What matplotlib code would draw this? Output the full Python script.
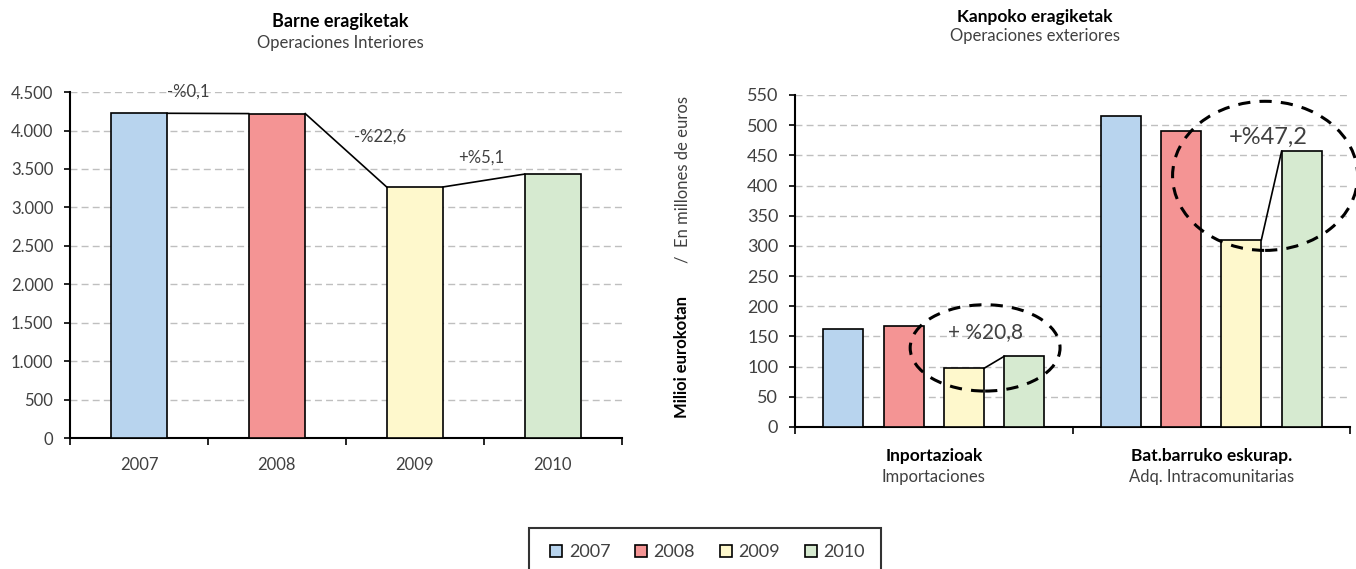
import matplotlib.pyplot as plt
from matplotlib.patches import Ellipse
from matplotlib.lines import Line2D
import numpy as np

plt.rcParams['font.family'] = ['Lato', 'DejaVu Sans']

years = ['2007', '2008', '2009', '2010']
colors = ['#B8D4EE', '#F49494', '#FEF8CC', '#D6EAD0']

# Operaciones interiores (millones de euros)
interior = [4224, 4220, 3266, 3433]
interior_changes = ['-%0,1', '-%22,6', '+%5,1']

# Operaciones exteriores
groups_eu = ['Inportazioak', 'Bat.barruko eskurap.']
groups_es = ['Importaciones', 'Adq. Intracomunitarias']
imports = [163, 167, 97, 117]
intra = [515, 491, 310, 457]
ext_changes = ['+ %20,8', '+%47,2']

txt = '#404040'
grid_c = '#BFBFBF'

fig = plt.figure(figsize=(13.56, 5.69), dpi=100)

# ---------- left chart ----------
ax1 = fig.add_axes([0.0516, 0.2302, 0.407, 0.608])
x = np.arange(len(years))
w = 0.41
ax1.bar(x, interior, width=w, color=colors, edgecolor='black', linewidth=1.2, zorder=3)
for i in range(len(years) - 1):
    ax1.plot([x[i] + w / 2, x[i + 1] - w / 2], [interior[i], interior[i + 1]],
             color='black', lw=1.2, zorder=4)
ax1.set_xlim(-0.5, 3.5)
ax1.set_ylim(0, 4500)
ax1.set_yticks(np.arange(0, 4501, 500))
ax1.set_yticklabels([f'{v:,}'.replace(',', '.') for v in range(0, 4501, 500)])
ax1.set_xticks(x)
ax1.set_xticklabels(years)
ax1.set_xticks(np.arange(-0.5, 3.6, 1), minor=True)
ax1.tick_params(axis='x', which='major', length=0, pad=14, labelsize=12, labelcolor=txt)
ax1.tick_params(axis='x', which='minor', length=5, width=1.2, direction='out')
ax1.tick_params(axis='y', length=4, width=1.2, pad=8, labelsize=12, labelcolor=txt)
ax1.grid(axis='y', color=grid_c, linestyle=(0, (5, 3)), lw=1, zorder=0)
for s in ['top', 'right']:
    ax1.spines[s].set_visible(False)
for s in ['left', 'bottom']:
    ax1.spines[s].set_linewidth(1.5)
ax1.text(0.355, 4500, interior_changes[0], ha='center', va='center', fontsize=12, color=txt, zorder=5)
ax1.text(1.746, 3915, interior_changes[1], ha='center', va='center', fontsize=12, color=txt, zorder=5)
ax1.text(2.478, 3642, interior_changes[2], ha='center', va='center', fontsize=12, color=txt, zorder=5)

fig.text(0.251, 0.963, 'Barne eragiketak', ha='center', va='center', fontsize=13, fontweight='bold', color='black')
fig.text(0.251, 0.924, 'Operaciones Interiores', ha='center', va='center', fontsize=12, color=txt)

# ---------- right chart ----------
ax2 = fig.add_axes([0.5863, 0.2496, 0.4093, 0.5835])
gx = np.arange(len(groups_eu))
bw = 0.144
step = 0.217
offs = (np.arange(4) - 1.5) * step
for j in range(4):
    ax2.bar(gx + offs[j], [imports[j], intra[j]], width=bw, color=colors[j],
            edgecolor='black', linewidth=1.2, zorder=3)
for g, vals in enumerate([imports, intra]):
    ax2.plot([g + offs[2] + bw / 2, g + offs[3] - bw / 2], [vals[2], vals[3]],
             color='black', lw=1.2, zorder=4)
ax2.set_xlim(-0.5, 1.5)
ax2.set_ylim(0, 550)
ax2.set_yticks(np.arange(0, 551, 50))
ax2.set_xticks(gx)
ax2.set_xticklabels([])
ax2.set_xticks([-0.5, 0.5, 1.5], minor=True)
ax2.tick_params(axis='x', which='major', length=0)
ax2.tick_params(axis='x', which='minor', length=5, width=1.2, direction='out')
ax2.tick_params(axis='y', length=4, width=1.2, pad=8, labelsize=13, labelcolor=txt)
ax2.grid(axis='y', color=grid_c, linestyle=(0, (5, 3)), lw=1, zorder=0)
for s in ['top', 'right']:
    ax2.spines[s].set_visible(False)
for s in ['left', 'bottom']:
    ax2.spines[s].set_linewidth(1.5)

ax2.add_patch(Ellipse((0.185, 131), 0.54, 143, fill=False, ls=(0, (4, 3)), lw=2.2,
                      edgecolor='black', zorder=5, clip_on=False))
ax2.add_patch(Ellipse((1.194, 416), 0.667, 247, fill=False, ls=(0, (4, 3)), lw=2.2,
                      edgecolor='black', zorder=5, clip_on=False))
ax2.text(0.185, 157, ext_changes[0], ha='center', va='center', fontsize=15, color=txt, zorder=6)
ax2.text(1.205, 480, ext_changes[1], ha='center', va='center', fontsize=17, color=txt, zorder=6)

for g in range(len(groups_eu)):
    ax2.annotate(groups_eu[g], xy=(g, 0), xycoords=('data', 'axes fraction'),
                 xytext=(0, -21), textcoords='offset points', ha='center', va='center',
                 fontsize=12.5, fontweight='bold', color='black', annotation_clip=False)
    ax2.annotate(groups_es[g], xy=(g, 0), xycoords=('data', 'axes fraction'),
                 xytext=(0, -36), textcoords='offset points', ha='center', va='center',
                 fontsize=12, color=txt, annotation_clip=False)

fig.text(0.763, 0.970, 'Kanpoko eragiketak', ha='center', va='center', fontsize=12.5, fontweight='bold', color='black')
fig.text(0.763, 0.936, 'Operaciones exteriores', ha='center', va='center', fontsize=12, color=txt)

fig.text(0.503, 0.372, 'Milioi eurokotan', rotation=90, ha='center', va='center',
         fontsize=12, fontweight='bold', color='black')
fig.text(0.503, 0.685, '/  En millones de euros', rotation=90, ha='center', va='center',
         fontsize=12, color=txt)

# ---------- legend ----------
handles = [Line2D([], [], marker='s', ls='none', markersize=9, markerfacecolor=c,
                  markeredgecolor='black', markeredgewidth=1.2) for c in colors]
leg = fig.legend(handles, years, loc='center', bbox_to_anchor=(0.520, 0.030), ncol=4,
                 frameon=True, fancybox=False, edgecolor='black', fontsize=13,
                 handletextpad=0.1, columnspacing=1.1, handlelength=1.2,
                 borderpad=0.9, labelcolor=txt)
leg.get_frame().set_linewidth(1.5)

fig.savefig('out.png', dpi=100)
